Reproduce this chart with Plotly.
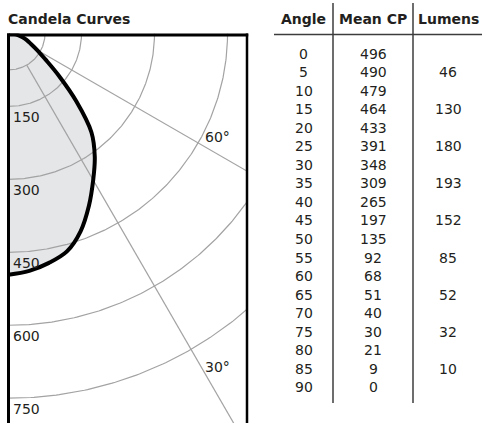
import numpy as np
import plotly.graph_objects as go

# ---------------- data ----------------
angles = [0, 5, 10, 15, 20, 25, 30, 35, 40, 45, 50, 55, 60, 65, 70, 75, 80, 85, 90]
mean_cp = [496, 490, 479, 464, 433, 391, 348, 309, 265, 197, 135, 92, 68, 51, 40, 30, 21, 9, 0]
lumens = [None, 46, None, 130, None, 180, None, 193, None, 152, None, 85, None, 52, None, 32, None, 10, None]
ring_values = [75, 150, 300, 450, 600, 750]
ring_label_values = [150, 300, 450, 600, 750]
radial_angles = [60, 30]
title_text = "Candela Curves"
headers = ["Angle", "Mean CP", "Lumens"]

# ---------------- geometry / style ----------------
W, H = 482, 423
FONT = "DejaVu Sans"
TXT = "#231f20"
GRID = "#a3a3a3"
X0_PX, Y0_PX, XR_PX = 8.5, 33.5, 247.0
XMAX, YMIN = 490, -801


def px(x):
    return x / W


def py(y):
    return 1 - y / H


fig = go.Figure()

th = np.radians(angles)
cp = np.array(mean_cp, dtype=float)
cx = cp * np.sin(th)
cy = -cp * np.cos(th)

# fill under the candela curve
fig.add_trace(go.Scatter(x=cx, y=cy, mode="lines",
                         line=dict(width=0, shape="spline", color="rgba(0,0,0,0)"),
                         fill="tozerox", fillcolor="#e5e6e8", hoverinfo="skip"))

# rings
t = np.radians(np.linspace(0, 90, 181))
for r in ring_values:
    fig.add_trace(go.Scatter(x=r * np.sin(t), y=-r * np.cos(t), mode="lines",
                             line=dict(color=GRID, width=1.2), hoverinfo="skip"))

# radial lines
for a in radial_angles:
    ar = np.radians(a)
    rr = np.array([ring_values[0], 1200])
    fig.add_trace(go.Scatter(x=rr * np.sin(ar), y=-rr * np.cos(ar), mode="lines",
                             line=dict(color=GRID, width=1.2), hoverinfo="skip"))

# candela curve
fig.add_trace(go.Scatter(x=cx, y=cy, mode="lines",
                         line=dict(color="#000000", width=4, shape="spline"),
                         hoverinfo="skip"))

annotations = []
# ring labels
for r in ring_label_values:
    annotations.append(dict(x=0, y=-r, xref="x", yref="y", text=str(r), showarrow=False,
                            xanchor="left", yanchor="middle", xshift=2, yshift=-11,
                            font=dict(family=FONT, size=14, color=TXT)))
# angle labels
ang_lab = {60: (450, 5, 6), 30: (750, 12, -17.5)}
for a in radial_angles:
    r, xs, ys = ang_lab[a]
    ar = np.radians(a)
    annotations.append(dict(x=r * np.sin(ar), y=-r * np.cos(ar), xref="x", yref="y",
                            text=f"{a}°", showarrow=False, xanchor="left", yanchor="middle",
                            xshift=xs, yshift=ys,
                            font=dict(family=FONT, size=14, color=TXT)))

# title
annotations.append(dict(x=px(6), y=py(19), xref="paper", yref="paper",
                        text=f"<b>{title_text}</b>", showarrow=False,
                        xanchor="left", yanchor="middle",
                        font=dict(family=FONT, size=14, color=TXT)))

# table
col_x = [303.5, 373, 448]
for hx, htxt in zip(col_x, headers):
    annotations.append(dict(x=px(hx), y=py(19), xref="paper", yref="paper",
                            text=f"<b>{htxt}</b>", showarrow=False,
                            xanchor="center", yanchor="middle",
                            font=dict(family=FONT, size=14, color=TXT)))
ROW0, DY = 53.5, 18.55
for i, (a, c, l) in enumerate(zip(angles, mean_cp, lumens)):
    yy = py(ROW0 + i * DY)
    for cxp, val in zip(col_x, (a, c, l)):
        if val is None:
            continue
        annotations.append(dict(x=px(cxp), y=yy, xref="paper", yref="paper",
                                text=str(val), showarrow=False,
                                xanchor="center", yanchor="middle",
                                font=dict(family=FONT, size=14, color=TXT)))

shapes = [
    # chart frame
    dict(type="line", xref="paper", yref="paper", x0=px(X0_PX), x1=px(X0_PX), y0=py(Y0_PX), y1=py(H + 5),
         line=dict(color="#000", width=3)),
    dict(type="line", xref="paper", yref="paper", x0=px(XR_PX), x1=px(XR_PX), y0=py(Y0_PX), y1=py(H + 5),
         line=dict(color="#000", width=2.5)),
    dict(type="line", xref="paper", yref="paper", x0=px(X0_PX - 1.5), x1=px(XR_PX + 1.25), y0=py(Y0_PX + 1.5),
         y1=py(Y0_PX + 1.5), line=dict(color="#000", width=3)),
    # table lines
    dict(type="line", xref="paper", yref="paper", x0=px(333), x1=px(333), y0=py(3), y1=py(403),
         line=dict(color="#3c3c3c", width=1.5)),
    dict(type="line", xref="paper", yref="paper", x0=px(413), x1=px(413), y0=py(3), y1=py(403),
         line=dict(color="#3c3c3c", width=1.5)),
    dict(type="line", xref="paper", yref="paper", x0=px(274), x1=px(482), y0=py(34.5), y1=py(34.5),
         line=dict(color="#3c3c3c", width=1.5)),
]

axis_common = dict(showgrid=False, zeroline=False, showticklabels=False, showline=False, ticks="")
fig.update_layout(
    width=W, height=H, margin=dict(l=0, r=0, t=0, b=0),
    paper_bgcolor="white", plot_bgcolor="white", showlegend=False,
    xaxis=dict(domain=[px(X0_PX), px(XR_PX)], range=[0, XMAX], **axis_common),
    yaxis=dict(domain=[0, py(Y0_PX)], range=[YMIN, 0], **axis_common),
    annotations=annotations, shapes=shapes,
)

fig.write_html(
    "out.html",
    config={"displayModeBar": False},
    post_script="document.body.style.margin='0';document.body.style.padding='0';"
                "document.documentElement.style.overflow='hidden';document.body.style.overflow='hidden';",
)
